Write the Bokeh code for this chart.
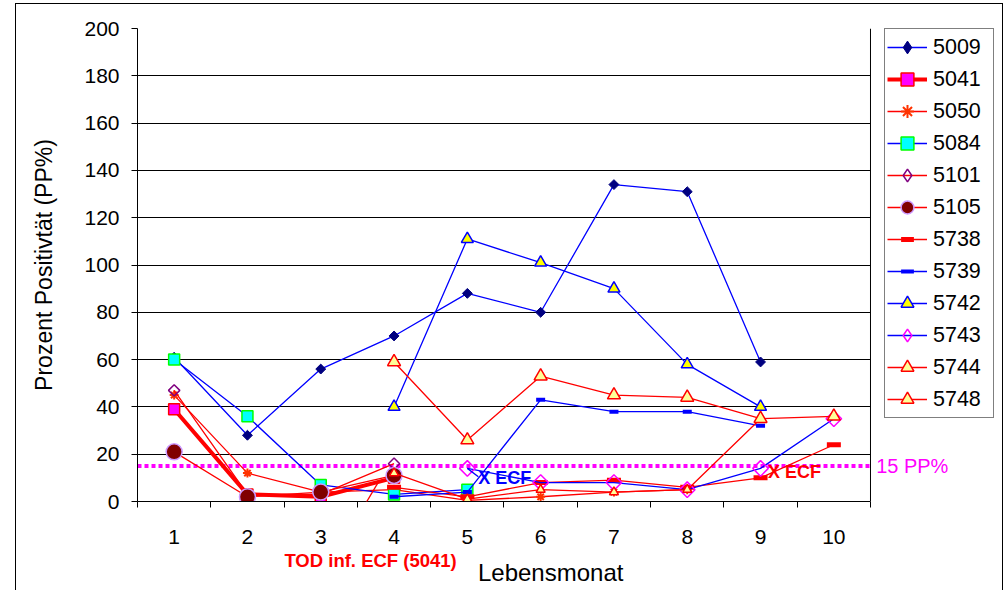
import math
from bokeh.plotting import figure
from bokeh.models import (Range1d, FixedTicker, Span, Label, Legend, LegendItem,
                          Arrow, ColumnDataSource, LinearAxis)
from bokeh.embed import file_html
from bokeh.resources import INLINE

# ---------------- data ----------------
months = [1, 2, 3, 4, 5, 6, 7, 8, 9, 10]
y_ticks = [0, 20, 40, 60, 80, 100, 120, 140, 160, 180, 200]

s5009 = [61, 28, 56, 70, 88, 80, 134, 131, 59, None]
s5041 = [39, 3, 2, 10, None, None, None, None, None, None]
s5050 = [45, 12, 4, 5, 0.5, 2, 4, 5, None, None]
s5084 = [60, 36, 7, 3, 5, None, None, None, None, None]
s5101 = [47, 3, 3, 16, None, None, None, None, None, None]
s5105 = [21, 2, 4, 11, None, None, None, None, None, None]
s5738 = [None, None, None, 6, 2, 8, 9, 6, 10, 24]
s5739 = [None, None, None, 2, 4, 43, 38, 38, 32, None]
s5742 = [None, None, None, 40, 111, 101, 90, 58, 40, None]
s5743 = [None, None, None, None, 14, 8, 8, 5, 14, 35]
s5744 = [None, None, None, 12, 1, 5, 4, 5, 35, None]
s5748 = [None, None, None, 59, 26, 53, 45, 44, 35, 36]

threshold = 15
threshold_label = "15 PP%"

FONT = "Liberation Sans"
RED = "#FF0000"
BLUE = "#0000FF"
DIAM = math.pi / 4

# plotted month range and the extra room on the right for legend / label
X_LO, X_HI = 0.5, 10.5
X_VIEW_HI = 12.3145

# name, values, line color, line width, marker, marker size, fill, edge, edge width, diamond?
series = [
    ("5009", s5009, BLUE, 1.3, "square", 7, "#000080", "#000080", 1, True),
    ("5041", s5041, RED, 4.0, "square", 11, "#FF00FF", RED, 1.5, False),
    ("5050", s5050, RED, 1.3, "asterisk", 9, "#FFFF00", "#FF3300", 2, False),
    ("5084", s5084, BLUE, 1.3, "square", 11, "#00FFFF", "#00FF00", 1.5, False),
    ("5101", s5101, RED, 1.3, "square", 8, None, "#800080", 1.5, True),
    ("5105", s5105, RED, 1.3, "circle", 16, "#800000", "#CC99FF", 1.5, False),
    ("5738", s5738, RED, 1.3, "dash", 14, RED, RED, 5, False),
    ("5739", s5739, BLUE, 1.3, "dash", 9, BLUE, BLUE, 4, False),
    ("5742", s5742, BLUE, 1.3, "triangle", 12, "#FFFF00", BLUE, 1.5, False),
    ("5743", s5743, BLUE, 1.3, "square", 11, None, "#FF00FF", 1.5, True),
    ("5744", s5744, RED, 1.3, "triangle", 9, "#FFFF99", RED, 1.5, False),
    ("5748", s5748, RED, 1.3, "triangle", 13, "#FFFF99", RED, 1.5, False),
]

# ---------------- figure ----------------
p = figure(width=988, height=587,
           x_range=Range1d(X_LO, X_VIEW_HI), y_range=Range1d(0, 200),
           output_backend="svg", toolbar_location=None,
           min_border_left=121, min_border_right=1,
           min_border_top=24, min_border_bottom=90)
p.styles = {"margin-left": "15px", "margin-top": "3px",
            "border-top": "1px solid #000", "border-left": "1px solid #000",
            "border-right": "1px solid #000"}
p.background_fill_color = "white"
p.border_fill_color = "white"
p.outline_line_color = None

# horizontal grid lines limited to the month range
p.xgrid.grid_line_color = None
p.ygrid.ticker = FixedTicker(ticks=y_ticks)
try:
    p.ygrid.cross_bounds = (X_LO, X_HI)
    p.ygrid.grid_line_color = "black"
    p.ygrid.grid_line_width = 1
except Exception:
    p.ygrid.grid_line_color = None
    p.segment(x0=X_LO, x1=X_HI, y0=y_ticks, y1=y_ticks, line_color="black", line_width=1)

# right border of the plotting area
p.add_layout(Span(location=X_HI, dimension="height", line_color="black", line_width=1))

# y axis
p.yaxis.ticker = FixedTicker(ticks=y_ticks)
p.yaxis.major_tick_out = 6
p.yaxis.major_tick_in = 0
p.yaxis.minor_tick_out = 0
p.yaxis.minor_tick_in = 0
p.yaxis.major_label_standoff = 12
p.yaxis.axis_label = "Prozent Positivtät (PP%)"
p.yaxis.axis_label_standoff = 24

# x axis: labels at months, ticks between months
p.xaxis.ticker = FixedTicker(ticks=months, minor_ticks=[m - 0.5 for m in months] + [10.5])
p.xaxis.bounds = (X_LO, X_HI)
p.xaxis.major_tick_out = 0
p.xaxis.major_tick_in = 0
p.xaxis.minor_tick_out = 6
p.xaxis.minor_tick_in = 0
p.xaxis.minor_tick_line_color = "black"
p.xaxis.major_label_standoff = 22

for ax in (p.xaxis[0], p.yaxis[0]):
    ax.axis_line_color = "black"
    ax.major_tick_line_color = "black"
    ax.major_label_text_font = FONT
    ax.major_label_text_font_size = "21px"
    ax.major_label_text_color = "black"
    ax.axis_label_text_font = FONT
    ax.axis_label_text_font_size = "23px"
    ax.axis_label_text_font_style = "normal"
    ax.axis_label_text_color = "black"

# threshold line
p.segment(x0=X_LO, x1=X_HI, y0=threshold, y1=threshold, line_color="#FF00FF",
          line_width=4, line_dash="4 3")
p.add_layout(Label(x=10.577, y=threshold, text=threshold_label, text_color="#FF00FF",
                   text_font=FONT, text_font_size="20px", text_baseline="middle"))

# ---------------- series ----------------
items = []
nan = float("nan")
for name, vals, lc, lw, marker, msize, fill, edge, ew, diamond in series:
    ys = [nan if v is None else v for v in vals]
    src = ColumnDataSource(dict(x=months, y=ys))
    lr = p.line("x", "y", source=src, line_color=lc, line_width=lw)
    kw = dict(line_color=edge, line_width=ew)
    if fill is None:
        kw["fill_alpha"] = 0
    else:
        kw["fill_color"] = fill
    if diamond:
        p.scatter("x", "y", source=src, marker="square", size=msize, angle=DIAM, **kw)
        # legend swatch (legend markers are drawn unrotated)
        lg = p.scatter(x=[nan], y=[nan], marker="diamond", size=msize, **kw)
        rends = [lr, lg]
    else:
        mr = p.scatter("x", "y", source=src, marker=marker, size=msize, **kw)
        rends = [lr, mr]
    items.append(LegendItem(label=name, renderers=rends))

legend = Legend(items=items, location=(747, 83))
legend.label_text_font = FONT
legend.label_text_font_size = "21.5px"
legend.label_text_color = "black"
legend.glyph_width = 40
legend.glyph_height = 32
legend.label_height = 32
legend.label_width = 58
legend.label_standoff = 6
legend.spacing = 0
legend.padding = 2
legend.margin = 0
legend.border_line_color = "black"
legend.border_line_width = 1
legend.background_fill_color = "white"
legend.background_fill_alpha = 1
p.add_layout(legend, "center")

# bottom: annotation text and axis title as extra label rows
tod_x = 3.68
tod_axis = LinearAxis(ticker=FixedTicker(ticks=[tod_x], minor_ticks=[]),
                      major_label_overrides={tod_x: "TOD inf. ECF (5041)"})
title_x = 6.137
title_axis = LinearAxis(ticker=FixedTicker(ticks=[title_x], minor_ticks=[]),
                        major_label_overrides={title_x: "Lebensmonat"})
for ax in (tod_axis, title_axis):
    ax.axis_line_color = None
    ax.major_tick_line_color = None
    ax.minor_tick_line_color = None
    ax.major_tick_out = 0
    ax.major_tick_in = 0
    ax.major_label_text_font = FONT

tod_axis.major_label_standoff = 3
tod_axis.major_label_text_font_size = "18.5px"
tod_axis.major_label_text_font_style = "bold"
tod_axis.major_label_text_color = RED
p.add_layout(tod_axis, "below")

title_axis.major_label_standoff = -15
title_axis.major_label_text_font_size = "24px"
title_axis.major_label_text_color = "black"
p.add_layout(title_axis, "below")

# ---------------- annotations inside the plot ----------------
p.add_layout(Label(x=5.15, y=10.1, text="X ECF", text_color=BLUE, text_font=FONT,
                   text_font_size="18px", text_font_style="bold", text_baseline="middle"))
p.add_layout(Arrow(end=None, x_start=5.0, y_start=14, x_end=5.15, y_end=10.5,
                   line_color=BLUE, line_width=1.3))

p.add_layout(Label(x=9.1, y=12.3, text="X ECF", text_color=RED, text_font=FONT,
                   text_font_size="18px", text_font_style="bold", text_baseline="middle"))

p.add_layout(Arrow(end=None, x_start=3.27, y_start=-18.6, x_end=3.8, y_end=8.9,
                   line_color=RED, line_width=1.3))

open("out.html", "w").write(file_html(p, INLINE))
